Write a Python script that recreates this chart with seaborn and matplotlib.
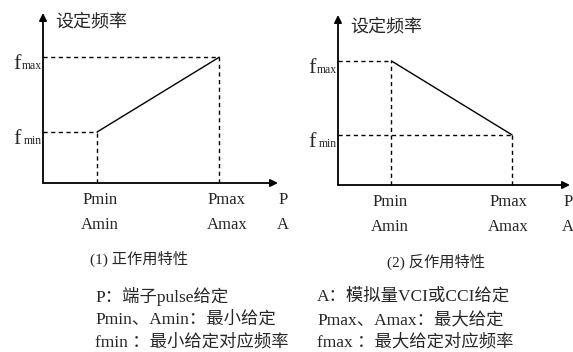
import matplotlib
matplotlib.use('Agg')
import matplotlib.pyplot as plt
import seaborn as sns
import pandas as pd

sns.set_theme(style='white')
plt.rcParams['font.family'] = ['Liberation Serif', 'Noto Sans CJK SC']
FONT = ['Liberation Serif', 'Noto Sans CJK SC']

# 给定范围 / 频率范围 (归一化)
p_points = [0.23, 0.75]          # Pmin, Pmax
f_pos = [0.30, 0.74]             # 正作用: fmin -> fmax
f_neg = [0.73, 0.295]            # 反作用: fmax -> fmin
x_labels_top = ['Pmin', 'Pmax', 'P']
x_labels_bot = ['Amin', 'Amax', 'A']
y_title = '设定频率'
captions = ['(1) 正作用特性', '(2) 反作用特性']
notes_left = ['P：端子pulse给定', 'Pmin、Amin：最小给定', 'fmin ：最小给定对应频率']
notes_right = ['A：模拟量VCI或CCI给定', 'Pmax、Amax：最大给定', 'fmax ：最大给定对应频率']

W, H = 573, 352
fig = plt.figure(figsize=(W / 100, H / 100), dpi=100)

def draw_panel(rect, ys, sub_names, label_x, title_y, cap, cap_xy):
    ax = fig.add_axes(rect)
    ax.set_xlim(0, 1)
    ax.set_ylim(0, 1)
    ax.axis('off')

    # 坐标轴 (带箭头)
    arrow = dict(arrowstyle='-|>', lw=1.3, color='black', mutation_scale=11,
                 shrinkA=0, shrinkB=0)
    ax.annotate('', xy=(1, 0), xytext=(0, 0), arrowprops=arrow, annotation_clip=False)
    ax.annotate('', xy=(0, 1), xytext=(0, 0), arrowprops=arrow, annotation_clip=False)

    # 特性曲线
    df = pd.DataFrame({'x': p_points, 'y': ys})
    sns.lineplot(data=df, x='x', y='y', ax=ax, color='black', lw=1.0)

    # 虚线
    for x, y in zip(p_points, ys):
        ax.plot([0, x], [y, y], color='black', lw=1.0, ls=(0, (3, 2.5)), clip_on=False)
        ax.plot([x, x], [0, y], color='black', lw=1.0, ls=(0, (3, 2.5)), clip_on=False)

    # 纵轴标记 f_max / f_min
    for y, sub in zip(ys, sub_names):
        ax.annotate(sub, xy=(0, y), xytext=(-1, -12), textcoords='offset pixels',
                    ha='right', va='baseline', fontsize=8.5, family=FONT,
                    annotation_clip=False)
        ax.annotate('f', xy=(0, y), xytext=(-22, -12), textcoords='offset pixels',
                    ha='right', va='baseline', fontsize=16, family=FONT,
                    annotation_clip=False)

    # 横轴标记
    for lx, t, b in zip(label_x, x_labels_top, x_labels_bot):
        ax.text(lx, -0.10, t, ha='center', va='center', fontsize=12, family=FONT)
        ax.text(lx, -0.245, b, ha='center', va='center', fontsize=12, family=FONT)

    ax.annotate(y_title, xy=(0, title_y), xytext=(12, 0), textcoords='offset pixels',
                ha='left', va='center', fontsize=13, family=FONT, annotation_clip=False)
    fig.text(cap_xy[0] / W, 1 - cap_xy[1] / H, cap, ha='left', va='center',
             fontsize=11, family=FONT)
    return ax

draw_panel([43 / W, 1 - 183 / H, 235 / W, 170 / H], f_pos, ['min', 'max'],
           [0.243, 0.783, 1.02], 0.947, captions[0], (90, 259))
draw_panel([338 / W, 1 - 185 / H, 232 / W, 170 / H], f_neg, ['max', 'min'],
           [0.224, 0.733, 0.99], 0.93, captions[1], (387, 262))

for i, (l, r) in enumerate(zip(notes_left, notes_right)):
    yy = 1 - [297, 320, 342][i] / H
    fig.text(95 / W, yy, l, ha='left', va='center', fontsize=12.5, family=FONT)
    fig.text(317 / W, yy, r, ha='left', va='center', fontsize=12.5, family=FONT)

fig.savefig('out.png', dpi=100, facecolor='white')
